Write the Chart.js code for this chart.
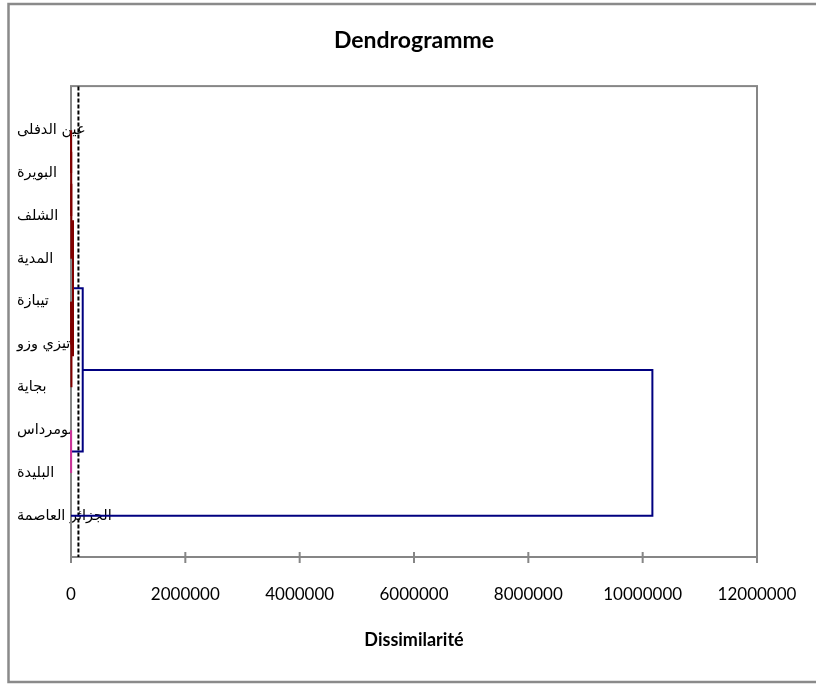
<!DOCTYPE html>
<html>
<head>
<meta charset="utf-8">
<script src="https://cdn.jsdelivr.net/npm/chart.js@4.4.1/dist/chart.umd.min.js"></script>
<style>
  html, body { margin: 0; padding: 0; background: #fff; }
</style>
</head>
<body>
<canvas id="dendro" width="816" height="684"></canvas>
<script>
// leaves, top to bottom
const leaves = ["عين الدفلى", "البويرة", "الشلف", "المدية", "تيبازة", "تيزي وزو", "بجاية", "بومرداس", "البليدة", "الجزائر العاصمة"];

// merge k joins mergeLeft[k] and mergeRight[k]; ids 0-9 are leaves, 10+k is the node of merge k
const mergeLeft = [0, 10, 11, 4, 13, 12, 7, 15, 17];
const mergeRight = [1, 2, 3, 5, 6, 14, 8, 16, 9];
const mergeHeight = [4000, 6000, 9000, 5000, 12000, 35000, 3000, 205000, 10170000];

const truncation = 130000;
const xTicks = [0, 2000000, 4000000, 6000000, 8000000, 10000000, 12000000];

const classColors = ["#800000", "#CC3399", "#3366CC"];
const aboveColor = "#000080";

// node positions / heights
const pos = leaves.map((_, i) => i);
const height = leaves.map(() => 0);
mergeHeight.forEach((h, k) => {
  pos.push((pos[mergeLeft[k]] + pos[mergeRight[k]]) / 2);
  height.push(h);
});

// class of each merge under the truncation line
const parent = {};
mergeLeft.forEach((a, k) => { parent[a] = 10 + k; parent[mergeRight[k]] = 10 + k; });
const classRoots = [];
function classRoot(node) {
  let n = node;
  while (parent[n] !== undefined && height[parent[n]] < truncation) n = parent[n];
  return n;
}
// order classes top to bottom
leaves.forEach((_, i) => {
  const r = classRoot(i);
  if (!classRoots.includes(r)) classRoots.push(r);
});

const datasets = mergeHeight.map((h, k) => {
  const a = mergeLeft[k], b = mergeRight[k];
  const color = h > truncation ? aboveColor : classColors[classRoots.indexOf(classRoot(10 + k)) % classColors.length];
  return {
    data: [
      { x: height[a], y: pos[a] },
      { x: h, y: pos[a] },
      { x: h, y: pos[b] },
      { x: height[b], y: pos[b] }
    ],
    showLine: true,
    borderColor: color,
    borderWidth: 2,
    pointRadius: 0,
    fill: false,
    clip: false
  };
});

datasets.push({
  data: [{ x: truncation, y: -2 }, { x: truncation, y: leaves.length + 1 }],
  showLine: true,
  borderColor: "#000",
  borderWidth: 2,
  borderDash: [4, 2],
  pointRadius: 0,
  fill: false
});

const frame = {
  id: "frame",
  beforeDraw(chart) {
    const ctx = chart.ctx;
    ctx.save();
    ctx.fillStyle = "#fff";
    ctx.fillRect(0, 0, chart.width, chart.height);
    ctx.strokeStyle = "#8a8a8a";
    ctx.lineWidth = 2.5;
    ctx.strokeRect(8.5, 4, 900, 678);
    ctx.restore();
  },
  beforeDatasetsDraw(chart) {
    const ctx = chart.ctx;
    const a = chart.chartArea;
    const xs = chart.scales.x;
    ctx.save();
    ctx.strokeStyle = "#868686";
    ctx.lineWidth = 2;
    ctx.strokeRect(a.left, a.top, a.right - a.left, a.bottom - a.top);
    xs.ticks.forEach(t => {
      const px = xs.getPixelForValue(t.value);
      ctx.beginPath();
      ctx.moveTo(px, a.bottom - 5);
      ctx.lineTo(px, a.bottom + 6);
      ctx.stroke();
    });
    ctx.restore();
  }
};

new Chart(document.getElementById("dendro").getContext("2d"), {
  type: "scatter",
  data: { datasets },
  options: {
    responsive: false,
    animation: false,
    layout: { padding: { left: 17, right: 59, top: 0, bottom: 0 } },
    plugins: {
      legend: { display: false },
      tooltip: { enabled: false },
      title: {
        display: true,
        text: "Dendrogramme",
        fullSize: false,
        color: "#000",
        font: { family: "Lato", size: 23, weight: "bold" },
        padding: { top: 26.5, bottom: 32 }
      }
    },
    scales: {
      x: {
        type: "linear",
        min: 0,
        max: 12000000,
        afterBuildTicks: s => { s.ticks = xTicks.map(v => ({ value: v })); },
        afterFit: s => { s.height = 127; },
        grid: { display: true, drawOnChartArea: false, drawTicks: true, tickLength: 10, color: "rgba(0,0,0,0)" },
        border: { display: false },
        ticks: {
          color: "#000",
          font: { family: "Lato", size: 17 },
          padding: 17,
          maxRotation: 0,
          callback: v => String(v)
        },
        title: {
          display: true,
          text: "Dissimilarité",
          color: "#000",
          font: { family: "Lato", size: 18, weight: "bold" },
          padding: { top: 0, bottom: 33 }
        }
      },
      y: {
        type: "linear",
        reverse: true,
        min: -1.03,
        max: 9.96,
        afterBuildTicks: s => { s.ticks = leaves.map((_, i) => ({ value: i })); },
        afterFit: s => { s.width = 54; },
        grid: { display: false, drawTicks: false },
        border: { display: false },
        ticks: {
          color: "#000",
          mirror: true,
          crossAlign: "near",
          padding: -54,
          autoSkip: false,
          font: { family: "DejaVu Sans", size: 14.5 },
          callback: v => leaves[v]
        }
      }
    }
  },
  plugins: [frame]
});
</script>
</body>
</html>
